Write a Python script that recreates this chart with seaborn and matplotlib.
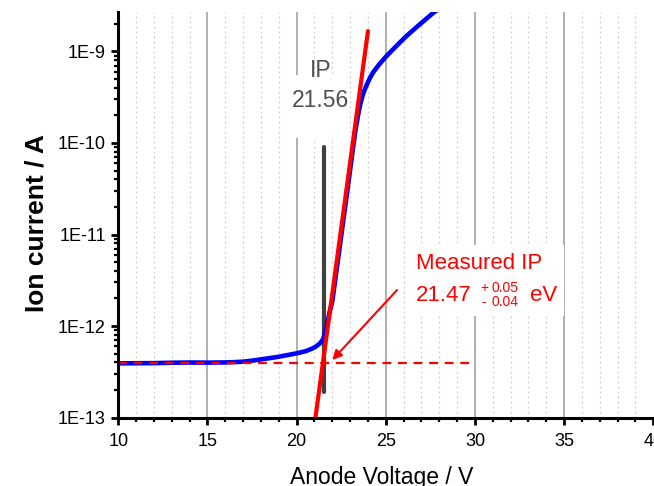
import numpy as np
import pandas as pd
import matplotlib
matplotlib.use("Agg")
import matplotlib.pyplot as plt
from matplotlib.patches import Rectangle
from matplotlib.ticker import FixedLocator, LogLocator, NullFormatter
import seaborn as sns

# Measured ion current vs. anode voltage
voltage = [10.0, 11.0, 12.0, 13.0, 14.0, 15.0, 16.0, 16.5, 17.0, 17.5, 18.0, 18.5,
           19.0, 19.5, 20.0, 20.5, 20.9, 21.1, 21.3, 21.45, 21.52, 21.58, 21.64,
           21.7, 21.77, 21.85, 22.0, 22.2, 22.4, 22.6, 22.8, 23.0, 23.2, 23.3,
           23.4, 23.5, 23.6, 23.7, 23.8, 23.95, 24.1, 24.3, 24.6, 25.0, 25.5,
           26.1, 26.8, 27.7, 28.5]
current = [3.91e-13, 3.92e-13, 3.93e-13, 3.97e-13, 3.99e-13, 3.98e-13, 4.00e-13,
           4.03e-13, 4.08e-13, 4.18e-13, 4.32e-13, 4.46e-13, 4.62e-13, 4.82e-13,
           5.03e-13, 5.30e-13, 5.70e-13, 6.00e-13, 6.45e-13, 7.00e-13, 7.50e-13,
           8.20e-13, 9.10e-13, 1.03e-12, 1.20e-12, 1.42e-12, 1.86e-12, 3.60e-12,
           6.90e-12, 1.35e-11, 2.60e-11, 5.10e-11, 1.00e-10, 1.38e-10, 1.80e-10,
           2.30e-10, 2.80e-10, 3.30e-10, 3.75e-10, 4.40e-10, 5.10e-10, 5.95e-10,
           7.10e-10, 8.75e-10, 1.10e-9, 1.44e-9, 1.90e-9, 2.68e-9, 3.40e-9]

# Background level and linear fit of the onset (log scale)
baseline_v = [10.0, 30.0]
baseline_i = [3.94e-13, 3.94e-13]
fit_v = [21.0, 24.0]
fit_i = [8.3e-14, 1.67e-9]

# Ionisation potentials
ip_ref = 21.56
ip_ref_span = [1.9e-13, 9.0e-11]
ip_measured = "21.47"
ip_err_plus = "0.05"
ip_err_minus = "0.04"

y_ticks = [1e-13, 1e-12, 1e-11, 1e-10, 1e-9]
y_ticklabels = ["1E-13", "1E-12", "1E-11", "1E-10", "1E-9"]
x_ticks = [10, 15, 20, 25, 30, 35, 40]

sns.set_theme(style="white")
plt.rcParams["font.family"] = ["Liberation Sans", "DejaVu Sans"]

fig = plt.figure(figsize=(6.54, 4.86), dpi=100)
ax = fig.add_axes([0.1809, 0.1409, 0.818, 0.8344])
ax.set_yscale("log")
ax.set_xlim(10, 40)
ax.set_ylim(1e-13, 2.7e-9)

# vertical grid: solid major, dotted minor
for v in range(11, 40):
    if v % 5 == 0:
        ax.axvline(v, color="#9a9a9a", lw=1.1, zorder=0.5)
    else:
        ax.axvline(v, color="#cfcfcf", lw=0.9, ls=(0, (1.5, 2.5)), zorder=0.4)

# white panels behind the annotations
ax.add_patch(Rectangle((0.312, 0.689), 0.112, 0.156, transform=ax.transAxes,
                       facecolor="white", edgecolor="none", zorder=0.8))
ax.add_patch(Rectangle((0.538, 0.250), 0.295, 0.175, transform=ax.transAxes,
                       facecolor="white", edgecolor="none", zorder=0.8))

df = pd.DataFrame({"voltage": voltage, "current": current})
sns.lineplot(data=df, x="voltage", y="current", ax=ax, color="#0000ff", lw=3.3,
             sort=False, estimator=None, zorder=3)
ax.lines[-1].set_solid_joinstyle("round")
sns.lineplot(x=baseline_v, y=baseline_i, ax=ax, color="#ff0000", lw=1.6,
             dashes=False, zorder=4)
ax.lines[-1].set_linestyle((0, (4, 3)))
sns.lineplot(x=[ip_ref, ip_ref], y=ip_ref_span, ax=ax, color="#404040", lw=3.0,
             estimator=None, sort=False, zorder=2)
sns.lineplot(x=fit_v, y=fit_i, ax=ax, color="#ff0000", lw=3.0, estimator=None,
             sort=False, zorder=5)
ax.lines[-1].set_solid_capstyle("round")

# labels
ax.text(ip_ref - 0.2, 6.2e-10, "IP", ha="center", va="center", color="#505050",
        fontsize=16.5, zorder=6)
ax.text(ip_ref - 0.2, 2.9e-10, f"{ip_ref:.2f}", ha="center", va="center",
        color="#505050", fontsize=16.5, zorder=6)

ax.text(26.69, 4.84e-12, "Measured IP", ha="left", va="center", color="#ff0000",
        fontsize=16, zorder=6)
ax.text(26.66, 2.18e-12, ip_measured, ha="left", va="center", color="#ff0000",
        fontsize=16, zorder=6)
ax.text(30.28, 2.62e-12, "+", ha="left", va="center", color="#ff0000",
        fontsize=10, zorder=6)
ax.text(30.9, 2.62e-12, ip_err_plus, ha="left", va="center", color="#ff0000",
        fontsize=10, zorder=6)
ax.text(30.35, 1.85e-12, "-", ha="left", va="center", color="#ff0000",
        fontsize=10, zorder=6)
ax.text(30.9, 1.85e-12, ip_err_minus, ha="left", va="center", color="#ff0000",
        fontsize=10, zorder=6)
ax.text(33.08, 2.18e-12, "eV", ha="left", va="center", color="#ff0000",
        fontsize=16, zorder=6)

ax.annotate("", xy=(22.0, 4.25e-13), xytext=(25.63, 2.47e-12),
            arrowprops=dict(arrowstyle="-|>", color="#ff0000", lw=1.5,
                            mutation_scale=14, shrinkA=0, shrinkB=0),
            zorder=6)

# axes styling
for side in ("top", "right"):
    ax.spines[side].set_visible(False)
for side in ("left", "bottom"):
    ax.spines[side].set_color("black")
    ax.spines[side].set_linewidth(2.2)
    ax.spines[side].set_zorder(7)

ax.xaxis.set_major_locator(FixedLocator(x_ticks))
ax.xaxis.set_minor_locator(FixedLocator(list(range(10, 41))))
ax.set_xticklabels([str(t) for t in x_ticks])
ax.yaxis.set_major_locator(FixedLocator(y_ticks))
ax.set_yticklabels(y_ticklabels)
ax.yaxis.set_minor_locator(LogLocator(base=10, subs=np.arange(2, 10), numticks=20))
ax.yaxis.set_minor_formatter(NullFormatter())

ax.tick_params(axis="both", which="major", direction="out", length=5, width=2.0,
               color="black", labelsize=13, labelcolor="black", pad=4)
ax.tick_params(axis="both", which="minor", direction="out", length=3, width=1.6,
               color="black")
ax.tick_params(axis="x", which="major", pad=6)
ax.tick_params(bottom=True, left=True, which="both")

ax.set_xlabel("Anode Voltage / V", fontsize=16.5, color="black")
ax.set_ylabel("Ion current / A", fontsize=19, fontweight="bold", color="black")
ax.xaxis.set_label_coords(0.492, -0.119)
ax.yaxis.set_label_coords(-0.13, 0.48)
ax.grid(False)

fig.savefig("out.png", dpi=100)
